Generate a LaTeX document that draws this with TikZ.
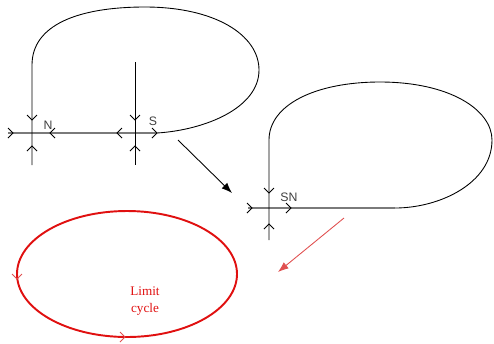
\documentclass[tikz,border=0pt]{standalone}
\usepackage{fontspec}
\setmainfont{Liberation Serif}
\setsansfont{Liberation Sans}
\usetikzlibrary{arrows.meta}
\definecolor{AxisGray}{HTML}{7A7A7A}
\definecolor{CycleRed}{HTML}{E01010}
\definecolor{SoftRed}{HTML}{E05050}
\tikzset{
  flow/.style={line width=0.5pt,black},
  axisline/.style={line width=0.7pt,AxisGray},
  chev/.pic={\draw[line width=0.5pt] (-5,-5) -- (0,0) -- (-5,5);},
  eqlabel/.style={font=\sffamily\fontsize{7}{8}\selectfont,inner sep=0pt,text=black!75},
  jump/.style={line width=0.5pt,-{Latex[length=6pt,width=4.5pt]}},
}

\begin{document}
\begin{tikzpicture}[x=0.02cm,y=-0.02cm]
  \useasboundingbox (0,0) rectangle (494,343);

  % saddle-node pair N and S
  \coordinate (N) at (32,133);
  \coordinate (S) at (135,133);
  \draw[axisline] (8,133) -- (157,133);
  \draw[flow] (32,165) -- (32,65)
    .. controls (32,25) and (78,7) .. (145,7)
    .. controls (215,7) and (259,35) .. (259,70)
    .. controls (259,108) and (205,130) .. (157,133);
  \draw[flow] (135.2,62) -- (135.2,165);
  \pic at (13,133) {chev};
  \pic[rotate=-90] at (32,120) {chev};
  \pic[rotate=90] at (32,146) {chev};
  \pic[rotate=180] at (50,133) {chev};
  \pic[rotate=180] at (117,133) {chev};
  \pic[rotate=-90] at (135,120) {chev};
  \pic[rotate=90] at (135,146) {chev};
  \pic at (157,133) {chev};
  \node[eqlabel] (lblN) at (48,125) {N};
  \node[eqlabel] (lblS) at (153,121) {S};

  % merged point SN
  \coordinate (SN) at (269,208);
  \draw[axisline] (248,208) -- (395,208);
  \draw[flow] (269,240) -- (269,140)
    .. controls (269,105) and (315,82) .. (380,82)
    .. controls (450,82) and (492,110) .. (492,140)
    .. controls (492,183) and (440,208) .. (395,208);
  \pic at (252,208) {chev};
  \pic[rotate=-90] at (269,193) {chev};
  \pic[rotate=90] at (269,224) {chev};
  \pic at (291,208) {chev};
  \node[eqlabel] (lblSN) at (289,197) {SN};

  % limit cycle
  \draw[CycleRed,line width=1.1pt] (127,274) ellipse (110 and 63);
  \pic[SoftRed,rotate=-90] at (17,279) {chev};
  \pic[SoftRed] at (125,337) {chev};
  \node[text=CycleRed,align=center,font=\fontsize{7.5}{9.5}\selectfont,inner sep=0pt]
    (lblLC) at (145,301) {Limit\\cycle};

  % transitions
  \coordinate (j1a) at (178,140);
  \coordinate (j1b) at (232,193);
  \coordinate (j2a) at (344,218);
  \coordinate (j2b) at (278,272);
  \draw[jump] (j1a) -- (j1b);
  \draw[jump,SoftRed] (j2a) -- (j2b);
\end{tikzpicture}
\end{document}
